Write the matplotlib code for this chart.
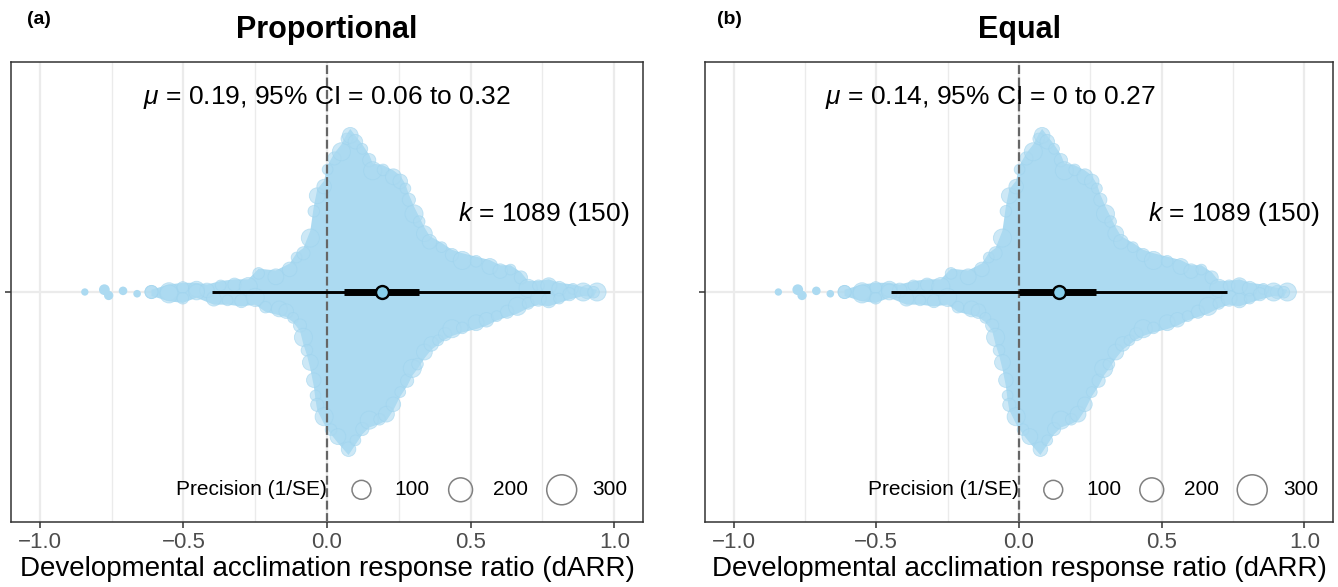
import numpy as np
import matplotlib.pyplot as plt

plt.rcParams['font.family'] = ['Liberation Sans', 'DejaVu Sans']
plt.rcParams['mathtext.fontset'] = 'custom'
plt.rcParams['mathtext.rm'] = 'Liberation Sans'
plt.rcParams['mathtext.it'] = 'Liberation Sans:italic'

# Outline of the effect size swarm (dARR).
# Both panels show the same 1089 effect sizes, only the model differs.
upper_x = [-0.611, -0.550, -0.502, -0.454, -0.418, -0.370, -0.322, -0.274, -0.238, -0.178,
           -0.130, -0.106, -0.082, -0.058, -0.046, -0.034, -0.010, 0.002, 0.026, 0.050,
           0.069, 0.081, 0.099, 0.123, 0.147, 0.159, 0.195, 0.231, 0.255, 0.273,
           0.285, 0.303, 0.321, 0.339, 0.357, 0.399, 0.435, 0.471, 0.519, 0.567,
           0.603, 0.639, 0.675, 0.700, 0.736, 0.772, 0.808, 0.856, 0.904, 0.940]
upper_y = [0.008, 0.026, 0.032, 0.032, 0.026, 0.038, 0.044, 0.044, 0.081, 0.075,
           0.099, 0.135, 0.153, 0.213, 0.297, 0.357, 0.387, 0.441, 0.483, 0.513,
           0.549, 0.567, 0.543, 0.513, 0.477, 0.447, 0.441, 0.423, 0.405, 0.375,
           0.339, 0.297, 0.261, 0.225, 0.195, 0.171, 0.147, 0.135, 0.123, 0.111,
           0.093, 0.093, 0.069, 0.038, 0.038, 0.044, 0.032, 0.026, 0.014, 0.008]
lower_x = [-0.611, -0.550, -0.502, -0.454, -0.394, -0.346, -0.298, -0.250, -0.214, -0.166,
           -0.142, -0.118, -0.094, -0.082, -0.070, -0.058, -0.046, -0.040, -0.034, -0.010,
           0.014, 0.038, 0.075, 0.099, 0.123, 0.147, 0.183, 0.207, 0.231, 0.255,
           0.279, 0.297, 0.315, 0.339, 0.363, 0.387, 0.411, 0.435, 0.471, 0.519,
           0.555, 0.591, 0.627, 0.663, 0.700, 0.736, 0.772, 0.808, 0.844, 0.892, 0.928]
lower_y = [0.014, 0.032, 0.038, 0.020, 0.044, 0.044, 0.050, 0.044, 0.069, 0.081,
           0.087, 0.105, 0.135, 0.183, 0.219, 0.267, 0.327, 0.375, 0.411, 0.459,
           0.495, 0.525, 0.567, 0.531, 0.495, 0.471, 0.459, 0.447, 0.411, 0.363,
           0.327, 0.291, 0.267, 0.231, 0.201, 0.183, 0.165, 0.153, 0.141, 0.129,
           0.117, 0.099, 0.087, 0.075, 0.056, 0.044, 0.050, 0.038, 0.026, 0.014, 0.017]
# lone points far in the left tail
tail_x = [-0.843, -0.775, -0.760, -0.710, -0.661]
tail_y = [0.000, 0.008, -0.012, 0.004, -0.006]

panels = ['Proportional', 'Equal']
tags = ['(a)', '(b)']
estimate = [0.19, 0.14]
ci_low = [0.06, 0.0]
ci_high = [0.32, 0.27]
pi_low = [-0.40, -0.45]
pi_high = [0.775, 0.73]
k_all = 1089
k_studies = 150
precision_levels = [100, 200, 300]

blob = '#acdaf1'
dot = '#87ceeb'
edge_sizes = [90, 170, 70, 130, 110, 60]  # marker areas cycled along the outline

fig = plt.figure(figsize=(13.38, 5.87), dpi=100)
ax_pos = [[11 / 1338, 65 / 587, 632 / 1338, 460 / 587],
          [705 / 1338, 65 / 587, 628 / 1338, 460 / 587]]
text_x = [0.0, -0.10]
tag_x = [27 / 1338, 717 / 1338]


def edge_dots(ax, xs, ys, sign):
    sizes = np.array([edge_sizes[n % len(edge_sizes)] for n in range(len(xs))])
    # radius in data units (287 px per unit), so circles sit inside the outline
    r = np.sqrt(sizes) / 2 * 100 / 72 / 287
    cy = np.maximum(np.array(ys) - r * 0.8, 0) * sign
    ax.scatter(xs, cy, s=sizes, color=blob, alpha=0.6, lw=0.6,
               edgecolors='#9ed3ee', zorder=2)


for i in range(2):
    ax = fig.add_axes(ax_pos[i])
    ax.set_xlim(-1.1, 1.1)
    ax.set_ylim(-0.8, 0.8)

    ax.set_xticks([-1.0, -0.5, 0.0, 0.5, 1.0])
    ax.set_xticklabels(['\u22121.0', '\u22120.5', '0.0', '0.5', '1.0'])
    ax.set_xticks([-0.75, -0.25, 0.25, 0.75], minor=True)
    ax.set_yticks([0])
    ax.set_yticklabels([''])
    ax.grid(which='major', color='#ebebeb', lw=1.6, zorder=0)
    ax.grid(which='minor', axis='x', color='#ebebeb', lw=1.0, zorder=0)
    ax.set_axisbelow(True)
    ax.tick_params(which='major', length=4, width=1.1, color='#333333',
                   labelsize=16, labelcolor='#4d4d4d', pad=3)
    ax.tick_params(which='minor', length=0)
    for sp in ax.spines.values():
        sp.set_color('#333333')
        sp.set_linewidth(1.1)

    # swarm of effect sizes
    px = np.concatenate([upper_x, lower_x[::-1]])
    py = np.concatenate([upper_y, -np.array(lower_y[::-1])])
    ax.fill(px, py, color=blob, lw=0, zorder=2)
    edge_dots(ax, upper_x, upper_y, 1)
    edge_dots(ax, lower_x, lower_y, -1)
    ax.scatter(tail_x, tail_y, s=[28, 60, 45, 38, 30], color=blob, lw=0, zorder=2)

    ax.axvline(0, color='#666666', ls=(0, (4, 1.6)), lw=1.6, zorder=3)

    # prediction interval, confidence interval, estimate
    ax.plot([pi_low[i], pi_high[i]], [0, 0], color='black', lw=2.1, zorder=4,
            solid_capstyle='butt')
    ax.plot([ci_low[i], ci_high[i]], [0, 0], color='black', lw=5, zorder=5,
            solid_capstyle='butt')
    ax.plot(estimate[i], 0, 'o', ms=9.3, mfc=dot, mec='black', mew=1.7, zorder=6)

    ax.text(text_x[i], 0.676,
            '$\\mu$ = %g, 95%% CI = %g to %g' % (estimate[i], ci_low[i], ci_high[i]),
            ha='center', va='center', fontsize=19, zorder=7)
    ax.text(1.053, 0.272, '$k$ = %d (%d)' % (k_all, k_studies),
            ha='right', va='center', fontsize=19, zorder=7)

    # size legend for precision
    trans = ax.get_xaxis_transform()
    ly = 0.07
    ax.text(0.0, ly, 'Precision (1/SE)', transform=trans, ha='right', va='center',
            fontsize=15, zorder=7)
    circle_x = [0.12, 0.465, 0.817]
    label_x = [0.235, 0.578, 0.925]
    circle_s = [185, 295, 465]
    for j in range(3):
        ax.scatter(circle_x[j], ly, s=circle_s[j], transform=trans, facecolor='none',
                   edgecolor='#808080', lw=1.1, zorder=7)
        ax.text(label_x[j], ly, str(precision_levels[j]), transform=trans,
                ha='left', va='center', fontsize=15, zorder=7)

    ax.set_xlabel('Developmental acclimation response ratio (dARR)', fontsize=20,
                  labelpad=2)
    ax.set_title(panels[i], fontsize=22, fontweight='bold', pad=17)
    fig.text(tag_x[i], 1 - 20 / 587, tags[i], fontsize=14, fontweight='bold',
             ha='left', va='center')

plt.savefig('out.png', dpi=100)
plt.close()
